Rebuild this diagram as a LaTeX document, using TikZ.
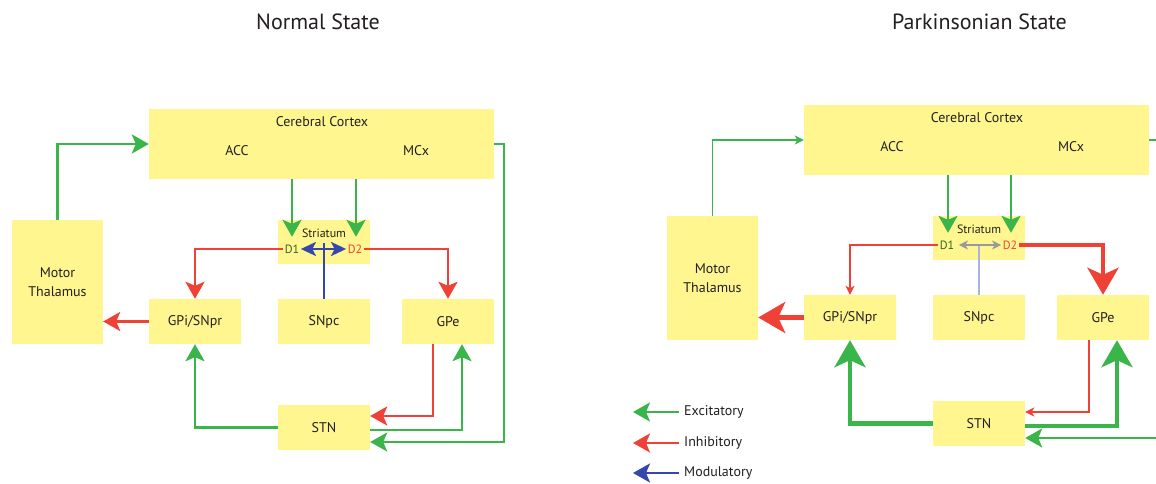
\documentclass[tikz,border=0pt]{standalone}
\usepackage{fontspec}
\setmainfont{PT Sans}
\usetikzlibrary{arrows.meta}
\definecolor{pcFFFFFF}{HTML}{FFFFFF}
\definecolor{pcFFF68F}{HTML}{FFF68F}
\definecolor{pc231F20}{HTML}{231F20}
\definecolor{pc39B54A}{HTML}{39B54A}
\definecolor{pcEF4136}{HTML}{EF4136}
\definecolor{pc3347AD}{HTML}{3347AD}
\definecolor{pc999999}{HTML}{999999}
\definecolor{pcA7B3E2}{HTML}{A7B3E2}
\definecolor{pc33662A}{HTML}{33662A}
\tikzset{
  box/.style={fill=pcFFF68F, inner sep=0, minimum width=92bp, minimum height=45bp,
    text=pc231F20, font=\fontsize{14bp}{19bp}\selectfont, align=center},
  lbl/.style={inner sep=0, text=pc231F20, font=\fontsize{14bp}{19bp}\selectfont},
  rcpt/.style={inner sep=1.5bp, font=\fontsize{12bp}{14bp}\selectfont},
  ttl/.style={inner sep=0, text=pc231F20, font=\fontsize{22bp}{26bp}\selectfont},
  exc/.style={draw=pc39B54A, line width=2.5bp, -{Stealth[length=17bp,width=19bp,inset=4bp]}},
  inh/.style={draw=pcEF4136, line width=2.5bp, -{Stealth[length=17bp,width=19bp,inset=4bp]}},
  modl/.style={draw=pc3347AD, line width=2.5bp, -{Stealth[length=17bp,width=19bp,inset=4bp]}},
  excthin/.style={draw=pc39B54A, line width=1.2bp, -{Stealth[length=9bp,width=9bp,inset=2.5bp]}},
  inhthin/.style={draw=pcEF4136, line width=1.2bp, -{Stealth[length=9bp,width=9bp,inset=2.5bp]}},
  excthick/.style={draw=pc39B54A, line width=4.5bp, -{Stealth[length=27bp,width=31bp,inset=7bp]}},
  inhthick/.style={draw=pcEF4136, line width=4.5bp, -{Stealth[length=27bp,width=31bp,inset=7bp]}}
}
\begin{document}
\begin{tikzpicture}
\path[use as bounding box] (0bp,0bp) rectangle (1156bp,484bp);
\path[fill=pcFFFFFF] (0bp,0bp) rectangle (1156bp,484bp);
\node[ttl] (nTitle) at (318bp,462bp) {Normal State};
\node[ttl] (pTitle) at (979.5bp,462bp) {Parkinsonian State};
\node[box, minimum width=345bp, minimum height=70bp] (nCortex) at (321.5bp,340bp) {};
\node[lbl] (nCortexTxt) at (322bp,362bp) {Cerebral Cortex};
\node[lbl] (nACC) at (237bp,333bp) {ACC};
\node[lbl] (nMCx) at (416bp,333bp) {MCx};
\node[box, minimum width=91bp, minimum height=124bp] (nMT) at (57.5bp,202bp) {Motor\\Thalamus};
\node[box, minimum height=44bp] (nStr) at (324bp,242bp) {};
\node[rcpt, inner sep=0, text=pc231F20] (nStrTxt) at (324bp,251bp) {Striatum};
\node[rcpt, text=pc33662A] (nD1) at (292bp,235bp) {D1};
\node[rcpt, text=pcEF4136] (nD2) at (355bp,235bp) {D2};
\node[box] (nGPi) at (195bp,162.5bp) {GPi/SNpr};
\node[box] (nSNpc) at (324bp,162.5bp) {SNpc};
\node[box] (nGPe) at (448bp,162.5bp) {GPe};
\node[box] (nSTN) at (324bp,56.5bp) {STN};
\draw[exc] (nMT.north) |- (nCortex.west);
\draw[exc] ([xshift=-32bp]nStr.north |- nCortex.south) -- ([xshift=-32bp,yshift=-17bp]nStr.north);
\draw[exc] ([xshift=32bp]nStr.north |- nCortex.south) -- ([xshift=32bp,yshift=-17bp]nStr.north);
\draw[inh] (nD1.west) -| (nGPi.north);
\draw[inh] (nD2.east) -| (nGPe.north);
\draw[modl, -] (nSNpc.north) -- (nSNpc.north |- nD1.north);
\draw[modl, {Stealth[length=15bp,width=14bp,inset=3.5bp]}-{Stealth[length=15bp,width=14bp,inset=3.5bp]}] (nD1.east) -- (nD2.west);
\draw[inh] (nGPi.west) -- (nMT.east |- nGPi.west);
\draw[exc] (nSTN.west) -| (nGPi.south);
\draw[inh] ([xshift=-15bp]nGPe.south) |- ([yshift=11.5bp]nSTN.east);
\draw[exc] ([yshift=-2.5bp]nSTN.east) -| ([xshift=14bp]nGPe.south);
\draw[exc] (nCortex.east) -- ++(10bp,0) |- ([yshift=-14.5bp]nSTN.east);
\node[box, minimum width=345bp, minimum height=70bp] (pCortex) at (976.5bp,344bp) {};
\node[lbl] (pCortexTxt) at (977bp,366bp) {Cerebral Cortex};
\node[lbl] (pACC) at (892bp,337bp) {ACC};
\node[lbl] (pMCx) at (1071bp,337bp) {MCx};
\node[box, minimum width=91bp, minimum height=124bp] (pMT) at (712.5bp,206bp) {Motor\\Thalamus};
\node[box, minimum height=44bp] (pStr) at (979bp,246bp) {};
\node[rcpt, inner sep=0, text=pc231F20] (pStrTxt) at (979bp,255bp) {Striatum};
\node[rcpt, text=pc33662A] (pD1) at (947bp,239bp) {D1};
\node[rcpt, text=pcEF4136] (pD2) at (1010bp,239bp) {D2};
\node[box] (pGPi) at (850bp,166.5bp) {GPi/SNpr};
\node[box] (pSNpc) at (979bp,166.5bp) {SNpc};
\node[box] (pGPe) at (1103bp,166.5bp) {GPe};
\node[box] (pSTN) at (979bp,60.5bp) {STN};
\draw[excthin] (pMT.north) |- (pCortex.west);
\draw[exc] ([xshift=-31bp]pStr.north |- pCortex.south) -- ([xshift=-31bp,yshift=-17bp]pStr.north);
\draw[exc] ([xshift=32bp]pStr.north |- pCortex.south) -- ([xshift=32bp,yshift=-17bp]pStr.north);
\draw[inhthin] (pD1.west) -| (pGPi.north);
\draw[inhthick] (pD2.east) -| (pGPe.north);
\draw[draw=pcA7B3E2, line width=1.2bp] (pSNpc.north) -- (pSNpc.north |- pD1);
\draw[draw=pc999999, line width=1.5bp, {Stealth[length=9bp,width=9bp,inset=2.5bp]}-{Stealth[length=9bp,width=9bp,inset=2.5bp]}] ([xshift=3bp]pD1.east) -- (pD2.west);
\draw[inhthick] (pGPi.west) -- (pMT.east |- pGPi.west);
\draw[excthick] (pSTN.west) -| (pGPi.south);
\draw[inhthin] ([xshift=-14bp]pGPe.south) |- ([yshift=11.5bp]pSTN.east);
\draw[excthick] ([yshift=-2.5bp]pSTN.east) -| ([xshift=14bp]pGPe.south);
\draw[exc] (pCortex.east) -- ++(10bp,0) |- ([yshift=-14.5bp]pSTN.east);
\node[lbl, anchor=west] (lgExc) at (684bp,72bp) {Excitatory};
\node[lbl, anchor=west] (lgInh) at (684bp,41bp) {Inhibitory};
\node[lbl, anchor=west] (lgMod) at (684bp,11bp) {Modulatory};
\draw[exc] ([xshift=-5bp]lgExc.west) -- ++(-46bp,0);
\draw[inh] ([xshift=-5bp]lgInh.west) -- ++(-46bp,0);
\draw[modl] ([xshift=-5bp]lgMod.west) -- ++(-46bp,0);
\end{tikzpicture}
\end{document}
